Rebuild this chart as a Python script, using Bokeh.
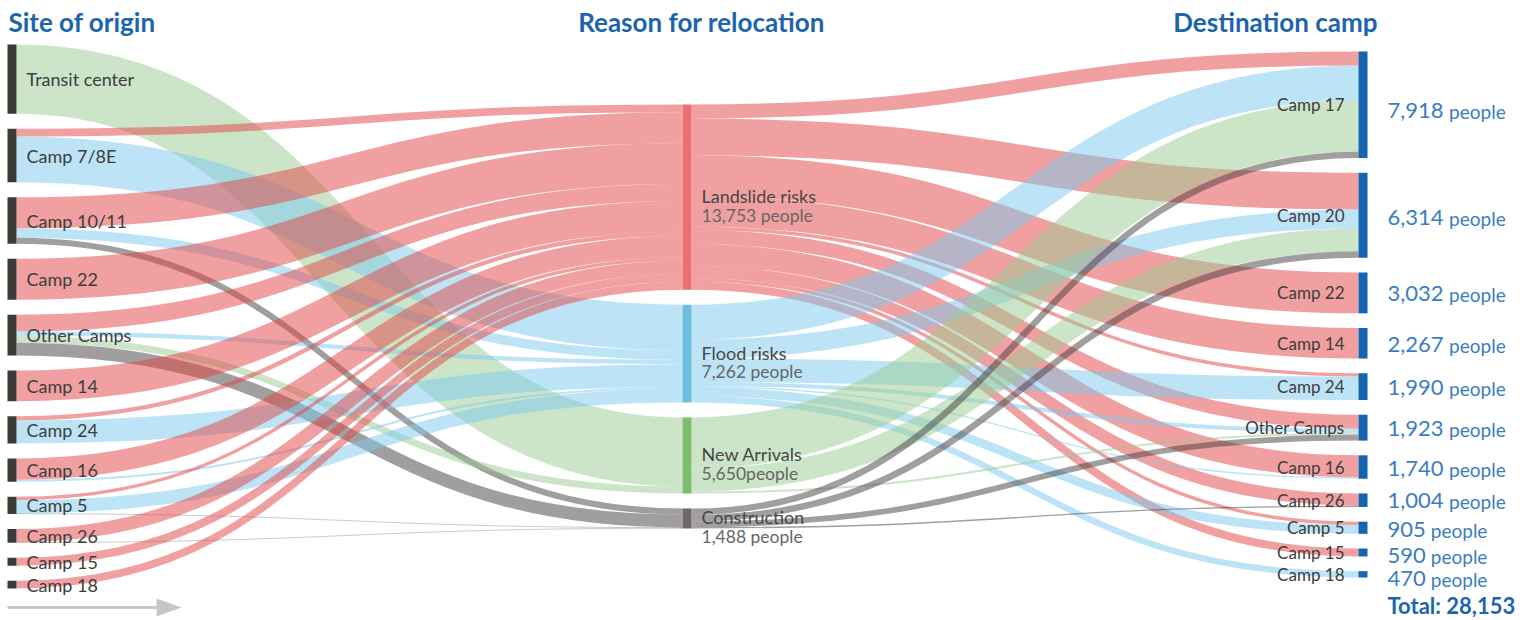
from bokeh.plotting import figure
from bokeh.models import Range1d, ColumnDataSource
from bokeh.embed import file_html
from bokeh.resources import INLINE
from bokeh.core.properties import value

# ---------------- data ----------------
origins = ["Transit center", "Camp 7/8E", "Camp 10/11", "Camp 22", "Other Camps",
           "Camp 14", "Camp 24", "Camp 16", "Camp 5", "Camp 26", "Camp 15", "Camp 18"]
reasons = ["Landslide risks", "Flood risks", "New Arrivals", "Construction"]
reason_counts = ["13,753 people", "7,262 people", "5,650people", "1,488 people"]
destinations = ["Camp 17", "Camp 20", "Camp 22", "Camp 14", "Camp 24", "Other Camps",
                "Camp 16", "Camp 26", "Camp 5", "Camp 15", "Camp 18"]
dest_counts = ["7,918", "6,314", "3,032", "2,267", "1,990", "1,923",
               "1,740", "1,004", "905", "590", "470"]
total_label = "Total: 28,153"

# people moving from each site of origin (same order as origins) for each reason
landslide_from = [0, 570, 2300, 3038, 1260, 2280, 320, 1585, 250, 980, 600, 570]
flood_from = [0, 3400, 702, 0, 320, 0, 1700, 150, 990, 0, 0, 0]
arrivals_from = [5150, 0, 0, 0, 500, 0, 0, 0, 0, 0, 0, 0]
construction_from = [0, 0, 450, 0, 958, 0, 0, 0, 40, 40, 0, 0]

# people going to each destination camp (same order as destinations) for each reason
landslide_to = [1038, 2732, 3032, 2267, 250, 1043, 1640, 906, 255, 590, 0]
flood_to = [2600, 1402, 0, 0, 1740, 300, 100, 0, 650, 0, 470]
arrivals_to = [3800, 1700, 0, 0, 0, 150, 0, 0, 0, 0, 0]
construction_to = [480, 480, 0, 0, 0, 430, 0, 98, 0, 0, 0]

# ---------------- styles ----------------
link_colors = ["#e14141", "#7bc9ed", "#99cb91", "#413d3d"]
mid_node_colors = ["#ec7072", "#6cbfdc", "#7dbd6e", "#6d6866"]
left_node_color = "#3e3a36"
right_node_color = "#1565b0"
title_color = "#1c65ad"
value_color = "#3a7dc2"
label_color = "#3d3d3d"
FONT = "Lato"

W, H = 1530, 620
p = figure(width=W, height=H, x_range=Range1d(0, W), y_range=Range1d(H, 0),
           output_backend="svg", toolbar_location=None,
           x_axis_location=None, y_axis_location=None, min_border=0,
           outline_line_color=None, background_fill_color="white",
           border_fill_color="white")
p.xgrid.visible = False
p.ygrid.visible = False

from_lists = [landslide_from, flood_from, arrivals_from, construction_from]
to_lists = [landslide_to, flood_to, arrivals_to, construction_to]

left_vals = [sum(fl[i] for fl in from_lists) for i in range(len(origins))]
mid_vals = [sum(fl) for fl in from_lists]
right_vals = [sum(tl[k] for tl in to_lists) for k in range(len(destinations))]
total = sum(left_vals)

# layout
col_x = [(7, 16), (682, 691), (1358, 1367)]
left_top, left_bottom, pad = 44, 588, 15
ky = (left_bottom - left_top - pad * (len(origins) - 1)) / total
center = (left_top + left_bottom) / 2


def stack(vals, top, gap):
    out, y = [], top
    for v in vals:
        h = v * ky
        out.append((y, y + h))
        y += h + gap
    return out


left_nodes = stack(left_vals, left_top, pad)
mid_h = sum(mid_vals) * ky + pad * (len(reasons) - 1)
mid_nodes = stack(mid_vals, center - mid_h / 2, pad)
right_nodes = stack(right_vals, 51, 14.7)

# links
L = dict(x0=[], y0=[], x1=[], y1=[], cx0=[], cy0=[], cx1=[], cy1=[], w=[], c=[])


def add_link(xa, ya, xb, yb, w, c):
    xm = (xa + xb) / 2
    L["x0"].append(xa); L["y0"].append(ya)
    L["x1"].append(xb); L["y1"].append(yb)
    L["cx0"].append(xm); L["cy0"].append(ya)
    L["cx1"].append(xm); L["cy1"].append(yb)
    L["w"].append(w); L["c"].append(c)


out_off = [n[0] for n in left_nodes]
in_off = [n[0] for n in mid_nodes]
for i in range(len(origins)):
    for j in range(len(reasons)):
        f = from_lists[j][i]
        if f <= 0:
            continue
        w = f * ky
        add_link(col_x[0][1], out_off[i] + w / 2, col_x[1][0], in_off[j] + w / 2, w, link_colors[j])
        out_off[i] += w
        in_off[j] += w

out_off = [n[0] for n in mid_nodes]
in_off = [n[0] for n in right_nodes]
for j in range(len(reasons)):
    for k in range(len(destinations)):
        f = to_lists[j][k]
        if f <= 0:
            continue
        w = f * ky
        add_link(col_x[1][1], out_off[j] + w / 2, col_x[2][0], in_off[k] + w / 2, w, link_colors[j])
        out_off[j] += w
        in_off[k] += w

p.bezier(x0="x0", y0="y0", x1="x1", y1="y1", cx0="cx0", cy0="cy0", cx1="cx1", cy1="cy1",
         line_width="w", line_color="c", line_alpha=0.5, source=ColumnDataSource(L))

# nodes
def draw_nodes(nodes, xs, colors):
    p.quad(left=[xs[0]] * len(nodes), right=[xs[1]] * len(nodes),
           top=[n[0] for n in nodes], bottom=[n[1] for n in nodes],
           fill_color=colors, line_color=None)


draw_nodes(left_nodes, col_x[0], [left_node_color] * len(left_nodes))
draw_nodes(mid_nodes, col_x[1], mid_node_colors)
draw_nodes(right_nodes, col_x[2], [right_node_color] * len(right_nodes))

# labels
def txt(x, y, t, size, color, align="left", style="normal", baseline="middle"):
    p.text(x=x, y=y, text=t, text_font=value(FONT), text_font_size=size,
           text_color=color, text_align=align, text_baseline=baseline,
           text_font_style=style)


txt([26] * len(origins), [(a + b) / 2 for a, b in left_nodes], origins, "18px", label_color)
txt([701] * len(reasons), [(a + b) / 2 - 1 for a, b in mid_nodes], reasons, "18px", "#474747")
txt([701] * len(reasons), [(a + b) / 2 + 18 for a, b in mid_nodes], reason_counts, "17.5px", "#666666")
txt([1344] * len(destinations), [(a + b) / 2 for a, b in right_nodes], destinations, "17px",
    label_color, align="right")

nudge = [6, 2, 1, 1, 1, 1, 1, 0, 2, 3, 4]
val_y = [(a + b) / 2 + d for (a, b), d in zip(right_nodes, nudge)]
num_fs = 22


def num_width(s):
    return sum(0.25 * num_fs if ch == "," else 0.58 * num_fs for ch in s)


txt([1387] * len(dest_counts), val_y, dest_counts, f"{num_fs}px", value_color)
txt([1387 + num_width(s) + 5 for s in dest_counts], [y + 1 for y in val_y],
    ["people"] * len(dest_counts), "19px", value_color)
txt([1387], [605], [total_label], "22px", title_color, style="bold")

# column titles
txt([8], [21], ["Site of origin"], "26px", title_color, style="bold")
txt([701], [21], ["Reason for relocation"], "26px", title_color, align="center", style="bold")
txt([1377], [21], ["Destination camp"], "26px", title_color, align="right", style="bold")

# direction arrow
p.line(x=[7, 158], y=[607, 607], line_color="#c6c6c6", line_width=3)
p.patch(x=[156, 181, 156], y=[598, 607, 616], fill_color="#c6c6c6", line_color=None)

open("out.html", "w").write(file_html(p, INLINE))
